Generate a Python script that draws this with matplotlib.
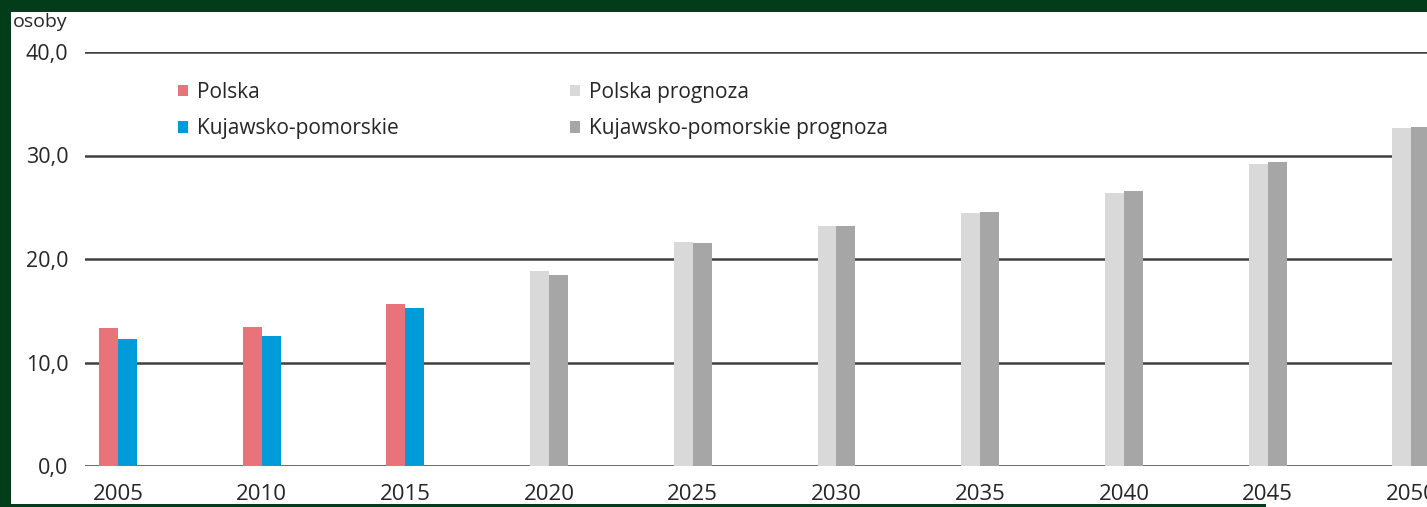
import matplotlib
matplotlib.use("Agg")
import matplotlib.pyplot as plt
from matplotlib.patches import Rectangle
import numpy as np

years = ["2005", "2010", "2015", "2020", "2025", "2030", "2035", "2040", "2045", "2050"]
polska = [13.3, 13.4, 15.7]
kujawsko = [12.3, 12.6, 15.3]
polska_prognoza = [18.8, 21.6, 23.2, 24.4, 26.4, 29.2, 32.7]
kujawsko_prognoza = [18.5, 21.5, 23.2, 24.5, 26.6, 29.4, 32.8]
yticks = [0, 10, 20, 30, 40]
ytick_labels = ["0,0", "10,0", "20,0", "30,0", "40,0"]

plt.rcParams['font.family'] = ['Open Sans', 'DejaVu Sans']

W, H = 1427, 507
fig = plt.figure(figsize=(W / 100, H / 100), dpi=100)
fig.patch.set_facecolor('white')

ax = fig.add_axes([85 / W, 1 - 466 / H, 1 - 85 / W, (466 - 52) / H])

x = np.arange(len(years))
bw = 0.132
hist_x = x[:3]
prog_x = x[3:]

c_pl = '#E8737A'
c_kp = '#009CDA'
c_plp = '#D9D9D9'
c_kpp = '#A6A6A6'

ax.bar(hist_x - bw / 2, polska, bw, color=c_pl, label='Polska', zorder=3)
ax.bar(hist_x + bw / 2, kujawsko, bw, color=c_kp, label='Kujawsko-pomorskie', zorder=3)
ax.bar(prog_x - bw / 2, polska_prognoza, bw, color=c_plp, label='Polska prognoza', zorder=3)
ax.bar(prog_x + bw / 2, kujawsko_prognoza, bw, color=c_kpp, label='Kujawsko-pomorskie prognoza', zorder=3)

ax.set_xlim(-33 / 143.7, (W - 118) / 143.7)
ax.set_ylim(0, 40)
for s in ax.spines.values():
    s.set_visible(False)
ax.set_yticks(yticks)
ax.set_yticklabels(ytick_labels)
ax.set_xticks(x)
ax.set_xticklabels(years)
ax.tick_params(axis='y', length=0, pad=12, labelsize=15.5, labelcolor='#262626')
ax.tick_params(axis='x', length=0, pad=13, labelsize=16, labelcolor='#262626')
ax.yaxis.grid(True, color='#404040', linewidth=1.8, zorder=1)
ax.set_axisbelow(True)

handles, labels = ax.get_legend_handles_labels()
leg = fig.legend(handles, labels, ncol=2, loc='upper left',
                 bbox_to_anchor=(178 / W, 1 - 82 / H), bbox_transform=fig.transFigure,
                 frameon=False, fontsize=15, borderpad=0, borderaxespad=0,
                 handlelength=0.48, handleheight=0.48, handletextpad=0.45,
                 labelspacing=0.74, columnspacing=8.2)
for t in leg.get_texts():
    t.set_color('#262626')

fig.text(13 / W, 1 - 22 / H, "osoby", fontsize=14, color='#262626', va='center', ha='left')

green = '#023c18'
fig.add_artist(Rectangle((0, 1 - 12 / H), 1, 12 / H, transform=fig.transFigure,
                         facecolor=green, edgecolor='none', zorder=10))
fig.add_artist(Rectangle((0, 0), 11 / W, 1, transform=fig.transFigure,
                         facecolor=green, edgecolor='none', zorder=10))
fig.add_artist(Rectangle((0, 0), 1266 / W, 3 / H, transform=fig.transFigure,
                         facecolor=green, edgecolor='none', zorder=10))

fig.savefig("out.png", dpi=100)
